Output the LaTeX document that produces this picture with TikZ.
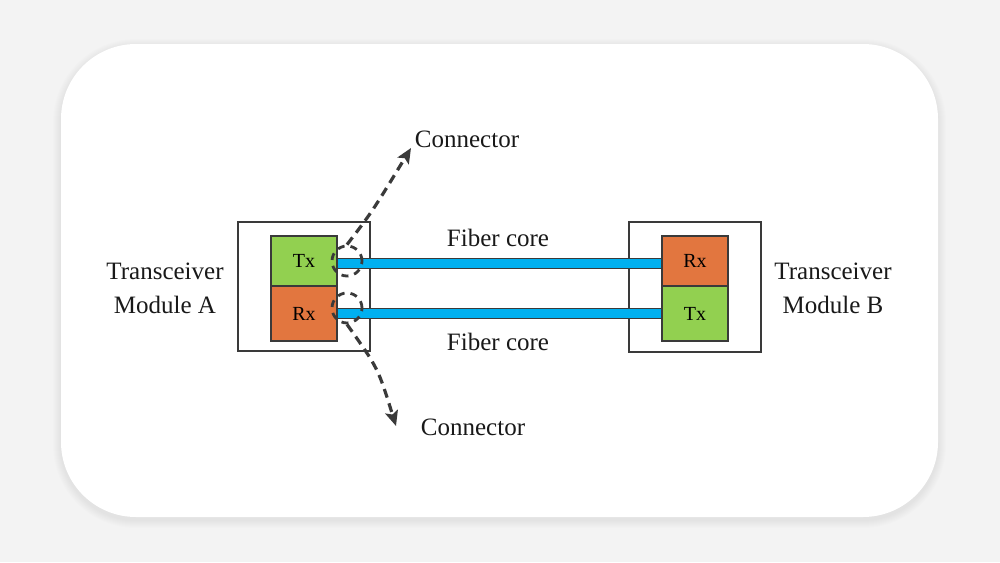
\documentclass[tikz,border=0pt]{standalone}
\usepackage{fontspec}
\setmainfont{Liberation Serif}
\usetikzlibrary{arrows.meta}
\usetikzlibrary{shapes.geometric}
\definecolor{bgcol}{HTML}{F3F3F3}
\definecolor{txcol}{HTML}{92D050}
\definecolor{rxcol}{HTML}{E2763F}
\definecolor{fibercol}{HTML}{00B0F0}
\definecolor{linecol}{HTML}{3A3A3A}
\tikzset{
	module/.style = {draw = linecol, line width = 1.3pt, fill = white, inner sep = 0pt},
	tx/.style = {draw = linecol, line width = 1.3pt, fill = txcol, inner sep = 0pt, minimum width = 66pt, font = \fontsize{20}{24}\selectfont},
	rx/.style = {tx, fill = rxcol},
	fiber/.style = {draw = linecol, line width = 1.2pt, double = fibercol, double distance = 8.5pt},
	label/.style = {text = black!90, align = center, font = \fontsize{25}{34}\selectfont},
	conn/.style = {draw = linecol, line width = 3.2pt, dash pattern = on 9pt off 6pt},
	spot/.style = {draw = linecol, line width = 2.8pt, dash pattern = on 7pt off 6pt, ellipse, inner sep = 0pt, minimum width = 30pt, minimum height = 30pt}
}
\begin{document}
\begin{tikzpicture}[x = 1pt, y = -1pt]
	\useasboundingbox (0,0) rectangle (1000,562);
	\fill [bgcol] (0,0) rectangle (1000,562);
	\foreach \s in {1,...,8}
		\fill [black, opacity = 0.008, rounded corners = 75+\s] (61-\s,44-\s+3) rectangle (938+\s,517+\s+3);
	\fill [white, rounded corners = 75] (61,44) rectangle (938,517);

	\node [module, minimum width = 132pt, minimum height = 129pt] (modA) at (304,286.5) {};
	\node [tx, minimum height = 50pt] (txA) at (304,261) {Tx};
	\node [rx, minimum height = 55pt] (rxA) at (304,313.5) {Rx};

	\node [module, minimum width = 132pt, minimum height = 130pt] (modB) at (695,287) {};
	\node [rx, minimum height = 50pt] (rxB) at (695,261) {Rx};
	\node [tx, minimum height = 55pt] (txB) at (695,313.5) {Tx};

	\draw [fiber] ([yshift = -2.5pt]txA.east) -- ([yshift = -2.5pt]rxB.west);
	\draw [fiber] (rxA.east) -- (txB.west);

	\node [label] (nameA) at (165,288) {Transceiver\\Module A};
	\node [label] (nameB) at (833,288) {Transceiver\\Module B};
	\node [label] (coreTop) at (498,238) {Fiber core};
	\node [label] (coreBot) at (498,342) {Fiber core};
	\node [label] (connTop) at (467,139) {Connector};
	\node [label] (connBot) at (473,427) {Connector};

	\node [spot] (spotTx) at (347,261) {};
	\node [spot] (spotRx) at (347,308) {};
	\coordinate (tipTop) at (411,148);
	\coordinate (tipBot) at (396,426);

	\draw [conn, -{Stealth[length = 15pt, width = 13pt, inset = 3pt]}] (spotTx.north) .. controls (372,212) .. (tipTop);
	\draw [conn, -{Stealth[length = 15pt, width = 13pt, inset = 3pt]}] (spotRx.south) .. controls (378,368) .. (tipBot);
\end{tikzpicture}
\end{document}
